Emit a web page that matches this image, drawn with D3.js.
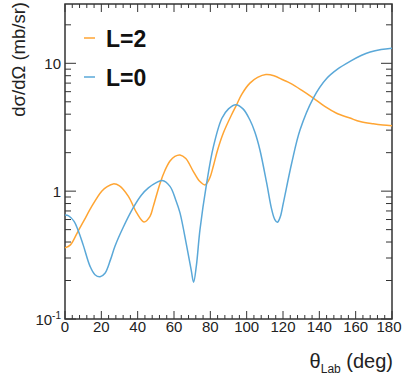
<!DOCTYPE html>
<html>
<head>
<meta charset="utf-8">
<script src="https://cdn.jsdelivr.net/npm/d3@7"></script>
<style>
  body { margin: 0; background: #fff; }
  svg { display: block; font-family: "Liberation Sans", Arial, sans-serif; }
</style>
</head>
<body>
<div class="graph"></div>
<script>
// angle (deg) and cross section (mb/sr)
const thetaL0 = [0, 2, 5, 7.3, 10, 13.8, 16.5, 19.3, 22, 25, 27.5, 32, 37.5, 42, 45.9, 50, 53.5, 57.8, 61, 63.3, 67, 69.5, 70.8, 72.3, 74.3, 78, 81.6, 86.3, 90, 94, 98, 101.8, 104.5, 107.3, 111, 113.8, 115.5, 116.9, 118.5, 120.2, 124.8, 129.4, 136.7, 144, 150, 156.9, 163, 168, 174, 180];
const xsL0 = [0.65, 0.64, 0.58, 0.49, 0.38, 0.258, 0.222, 0.214, 0.228, 0.29, 0.371, 0.52, 0.74, 0.93, 1.06, 1.16, 1.21, 1.09, 0.85, 0.676, 0.371, 0.24, 0.194, 0.26, 0.5, 1.16, 2.2, 3.7, 4.4, 4.74, 4.4, 3.6, 2.9, 2.1, 1.16, 0.717, 0.6, 0.571, 0.63, 0.81, 1.66, 3.02, 5.35, 7.6, 9.0, 10.35, 11.5, 12.25, 12.8, 13.1];

const thetaL2 = [0, 3, 7.3, 10.5, 14.7, 20.2, 23, 26.6, 30, 34.9, 39.5, 43.5, 46.8, 48.6, 52.3, 55, 57.8, 60.5, 63.3, 66.5, 70.6, 74, 77.1, 79.5, 81.6, 84, 87.1, 91.7, 94.5, 97.2, 101.8, 106, 110.6, 115, 120.2, 123.9, 130, 136.7, 143, 149.5, 156.9, 162.4, 169.7, 175, 180];
const xsL2 = [0.36, 0.38, 0.49, 0.59, 0.76, 1.0, 1.08, 1.14, 1.1, 0.91, 0.676, 0.575, 0.636, 0.76, 1.15, 1.45, 1.72, 1.87, 1.92, 1.8, 1.43, 1.2, 1.12, 1.25, 1.56, 2.1, 2.84, 3.96, 4.75, 5.7, 7.0, 7.75, 8.17, 8.0, 7.4, 7.0, 6.2, 5.35, 4.6, 4.07, 3.73, 3.5, 3.36, 3.29, 3.25];

const xTicks = [0, 20, 40, 60, 80, 100, 120, 140, 160, 180];
const yTicks = [0.1, 1, 10];
const legendLabels = ["L=2", "L=0"];

const W = 402, H = 379;
const padL = 65, padR = 392, padT = 4, padB = 319;
const orange = "#ffa533", blue = "#5aa8d8", axisCol = "#333";

const svg = d3.select(".graph").append("svg").attr("width", W).attr("height", H);

const x = d3.scaleLinear().domain([0, 180]).range([padL, padR]);
const y = d3.scaleLog().domain([0.1, 29.1]).range([padB, padT]);

// minor ticks
const xMinor = d3.range(0, 181, 4);
const yMinor = [];
[0.1, 1, 10].forEach(d => { for (let k = 2; k <= 9; k++) if (d * k <= 29) yMinor.push(d * k); });

const g = svg.append("g").attr("stroke", axisCol).attr("stroke-width", 1);
xMinor.forEach(v => {
  const len = v % 20 === 0 ? 8 : 4;
  g.append("line").attr("x1", x(v)).attr("x2", x(v)).attr("y1", padB).attr("y2", padB - len);
  g.append("line").attr("x1", x(v)).attr("x2", x(v)).attr("y1", padT).attr("y2", padT + len);
});
yMinor.concat(yTicks).forEach(v => {
  const len = yTicks.includes(v) ? 11 : 6;
  g.append("line").attr("y1", y(v)).attr("y2", y(v)).attr("x1", padL).attr("x2", padL + len);
  g.append("line").attr("y1", y(v)).attr("y2", y(v)).attr("x1", padR).attr("x2", padR - len);
});

// frame
svg.append("rect").attr("x", padL).attr("y", padT).attr("width", padR - padL).attr("height", padB - padT)
  .attr("fill", "none").attr("stroke", axisCol).attr("stroke-width", 1.5);

// tick labels (last one nudged so it stays inside the window)
svg.append("g").selectAll("text").data(xTicks).join("text")
  .attr("x", d => x(d)).attr("dx", d => d === 180 ? -3 : 0).attr("y", 332).attr("text-anchor", "middle")
  .attr("font-size", 15).attr("fill", "#222").text(d => d);

svg.append("g").selectAll("text").data(yTicks).join("text")
  .attr("x", 61).attr("y", d => y(d) + 5.5).attr("text-anchor", "end")
  .attr("font-size", 15).attr("fill", "#222")
  .each(function(d) {
    const t = d3.select(this);
    if (d < 1) {
      t.append("tspan").text("10");
      t.append("tspan").attr("font-size", 10).attr("dy", -6).text("-1");
    } else t.text(d);
  });

// axis titles
svg.append("text")
  .attr("transform", "translate(25,2) rotate(-90)")
  .attr("text-anchor", "end").attr("font-size", 18.5).attr("fill", "#222")
  .text("dσ/dΩ (mb/sr)");

const xt = svg.append("text").attr("x", 393).attr("y", 368).attr("text-anchor", "end")
  .attr("font-size", 20).attr("fill", "#222");
xt.append("tspan").text("θ");
xt.append("tspan").attr("font-size", 12).attr("dy", 5).text("Lab");
xt.append("tspan").attr("dy", -5).text(" (deg)");

// curves
const line = d3.line().x(d => x(d[0])).y(d => y(d[1])).curve(d3.curveCatmullRom.alpha(0.5));
svg.append("path").datum(d3.zip(thetaL2, xsL2)).attr("d", line)
  .attr("fill", "none").attr("stroke", orange).attr("stroke-width", 1.5);
svg.append("path").datum(d3.zip(thetaL0, xsL0)).attr("d", line)
  .attr("fill", "none").attr("stroke", blue).attr("stroke-width", 1.5);

// legend
const leg = svg.append("g");
[[legendLabels[0], orange, 38], [legendLabels[1], blue, 77]].forEach(([lab, col, ly]) => {
  leg.append("line").attr("x1", 84).attr("x2", 95).attr("y1", ly).attr("y2", ly)
    .attr("stroke", col).attr("stroke-width", 1.5);
  leg.append("text").attr("x", 106).attr("y", ly + 9).attr("font-size", 23)
    .attr("font-weight", "bold").attr("fill", "#111").text(lab);
});
</script>
</body>
</html>
